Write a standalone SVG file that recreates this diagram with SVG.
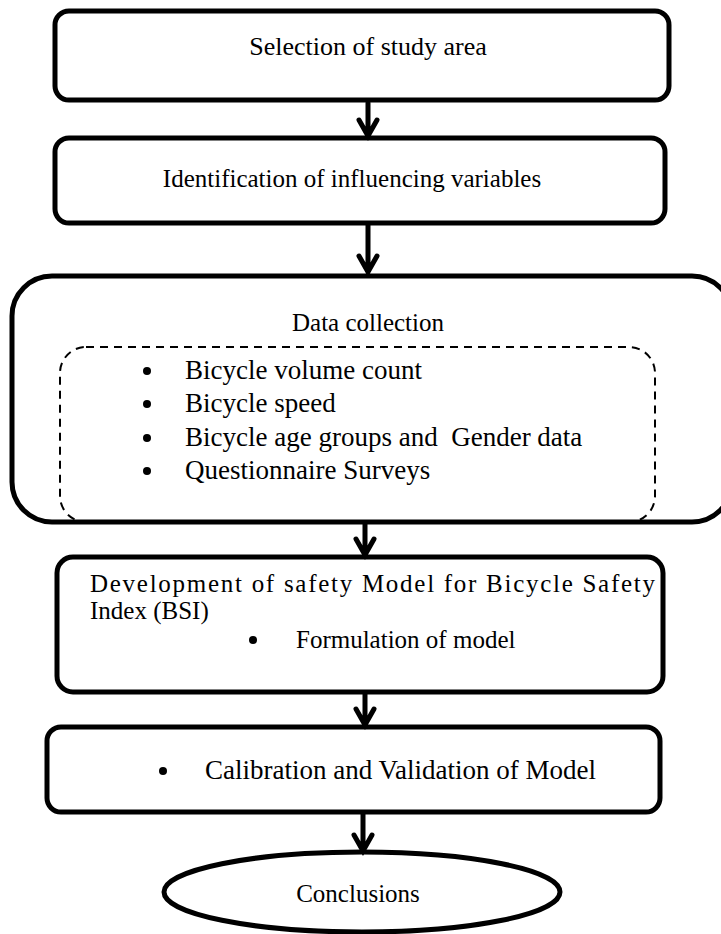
<svg xmlns="http://www.w3.org/2000/svg" width="721" height="934" viewBox="0 0 721 934">
<style>
.box{fill:#fff;stroke:#000;stroke-width:5}
.dash{fill:none;stroke:#000;stroke-width:2;stroke-dasharray:8,6}
.t{font-family:"Liberation Serif","Times New Roman",serif;font-size:25px;fill:#000}
.b{font-size:27px}
.c{text-anchor:middle}
.ln{fill:none;stroke:#000;stroke-width:5;stroke-linecap:round;stroke-linejoin:miter}
</style>
<rect width="721" height="934" fill="#fff"/>
<g id="n1"><rect class="box" x="55" y="11" width="614" height="89" rx="14"/><text class="t c" x="368" y="55" style="font-size:26px">Selection of study area</text></g>
<g id="n2"><rect class="box" x="55" y="138" width="610" height="85" rx="14"/><text class="t c" x="352" y="187">Identification of influencing variables</text></g>
<g id="n3"><rect class="box" x="12" y="276" width="720" height="246" rx="40"/><text class="t c" x="368" y="331">Data collection</text>
<rect class="dash" x="60" y="347" width="595" height="175" rx="26"/>
<g class="t b"><circle cx="147" cy="371" r="4"/><text x="185" y="379">Bicycle volume count</text>
<circle cx="147" cy="404" r="4"/><text x="185" y="412">Bicycle speed</text>
<circle cx="147" cy="438" r="4"/><text x="185" y="446" xml:space="preserve">Bicycle age groups and  Gender data</text>
<circle cx="147" cy="471" r="4"/><text x="185" y="479">Questionnaire Surveys</text></g></g>
<g id="n4"><rect class="box" x="57" y="557" width="606" height="135" rx="16"/>
<text class="t" x="90" y="592" textLength="565" lengthAdjust="spacing">Development of safety Model for Bicycle Safety</text>
<text class="t" x="90" y="619">Index (BSI)</text>
<circle cx="253" cy="640" r="4"/><text class="t" x="296" y="648">Formulation of model</text></g>
<g id="n5"><rect class="box" x="47" y="727" width="613" height="85" rx="14"/>
<circle cx="163" cy="771" r="4"/><text class="t b" x="205" y="779">Calibration and Validation of Model</text></g>
<g id="n6"><ellipse class="box" cx="362" cy="892" rx="198" ry="40"/><text class="t c" x="358" y="902">Conclusions</text></g>
<g id="edges">
<path class="ln" d="M368 103V136M359 120L368 136L377 120"/>
<path class="ln" d="M368 225V272M359 256L368 272L377 256"/>
<path class="ln" d="M365 524V555M356 539L365 555L374 539"/>
<path class="ln" d="M365 694V725M356 709L365 725L374 709"/>
<path class="ln" d="M363 814V851M354 835L363 851L372 835"/>
</g>
</svg>
